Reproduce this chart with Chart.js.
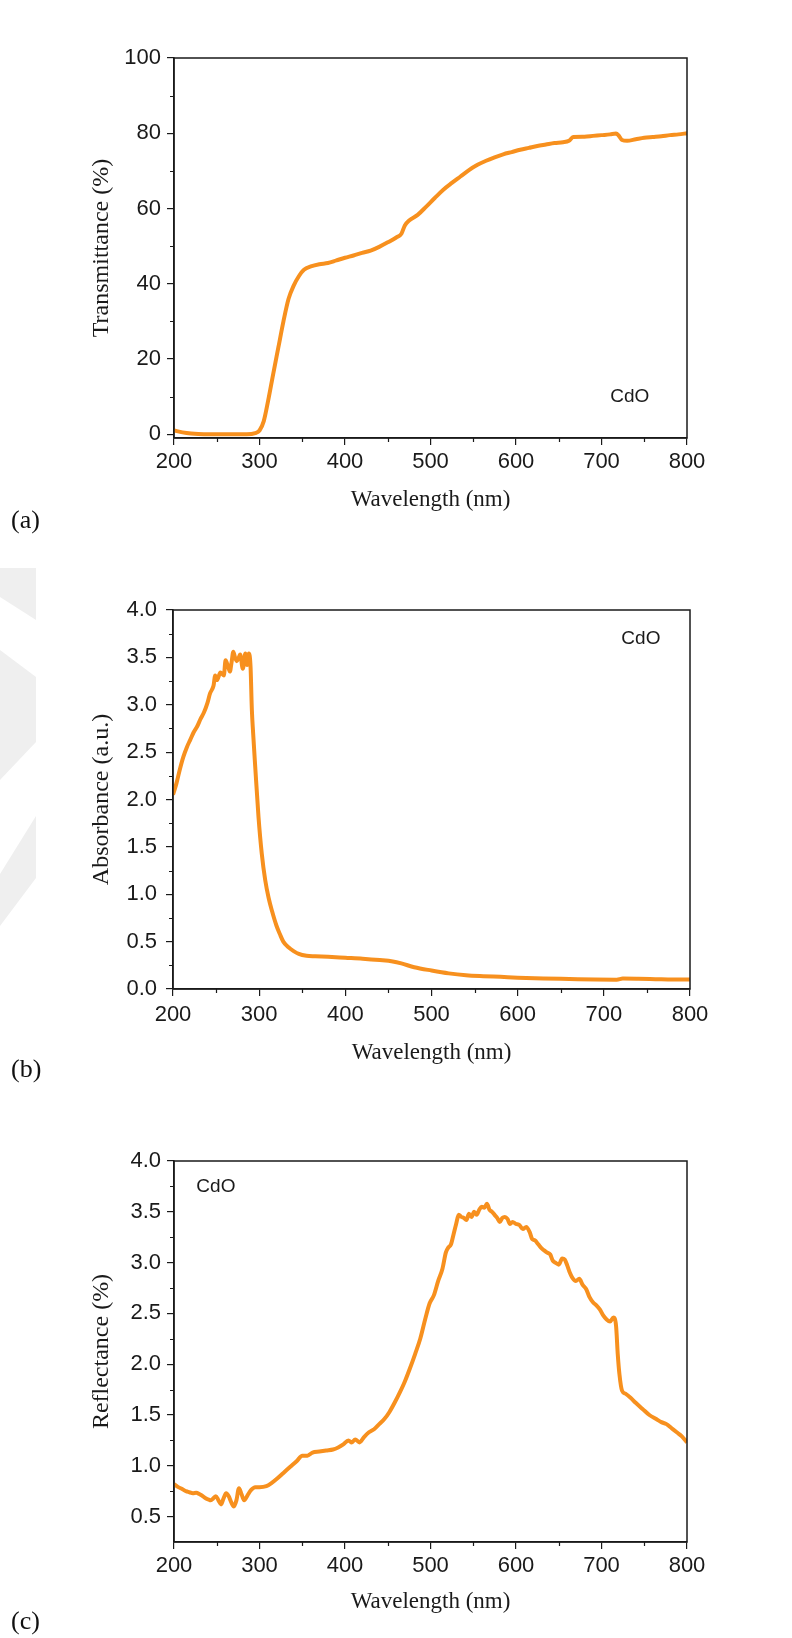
<!DOCTYPE html>
<html lang="en">
<head>
<meta charset="utf-8">
<title>CdO optical spectra</title>
<script src="https://cdn.jsdelivr.net/npm/chart.js"></script>
<style>
    body { margin: 0; background: #fff; }
    #page { position: relative; width: 792px; height: 1638px; background: #fff; overflow: hidden; }
    canvas { position: absolute; left: 0; }
    .panel {
        position: absolute; left: 11px;
        font-family: 'Liberation Serif', 'Times New Roman', serif;
        font-size: 26px; line-height: 26px; color: #111;
    }
    .mark { position: absolute; left: 0; width: 36px; background: #efefef; }
</style>
</head>
<body>
<div id="page">
    <!-- faint watermark at the left edge -->
    <div class="mark" style="top:568px;height:52px;clip-path:polygon(0 0,36px 0,36px 52px,0 29px)"></div>
    <div class="mark" style="top:650px;height:130px;clip-path:polygon(0 0,36px 27px,36px 92px,0 130px)"></div>
    <div class="mark" style="top:816px;height:110px;clip-path:polygon(36px 0,36px 62px,0 110px,0 58px)"></div>

    <canvas id="chartA" width="792" height="540" style="top:0"></canvas>
    <canvas id="chartB" width="792" height="540" style="top:540px"></canvas>
    <canvas id="chartC" width="792" height="558" style="top:1080px"></canvas>

    <div class="panel" style="top:507px">(a)</div>
    <div class="panel" style="top:1056px">(b)</div>
    <div class="panel" style="top:1608px">(c)</div>
</div>

<script>
// ---- data ----
const xTicks = [200, 300, 400, 500, 600, 700, 800];
const xMinor = [250, 350, 450, 550, 650, 750];

// (a) transmittance
const wlA = [200, 210, 220, 235, 260, 285, 295, 300, 305, 310, 316, 322, 328, 334, 340, 346, 352, 360, 370, 380,
    390, 400, 410, 420, 430, 440, 450, 460, 466, 470, 475, 485, 495, 505, 515, 525, 535, 545, 555, 565,
    575, 585, 595, 605, 615, 625, 635, 645, 655, 662, 667, 680, 690, 700, 710, 717, 720, 724, 730, 740,
    750, 760, 770, 780, 790, 800];
const transA = [1.0, 0.5, 0.2, 0.0, 0.0, 0.0, 0.3, 1.0, 3.5, 8.8, 16, 23, 30, 36, 39.5, 42, 43.7, 44.6, 45.2, 45.5,
    46.2, 46.9, 47.5, 48.2, 48.8, 49.8, 51.0, 52.3, 53.3, 55.5, 56.8, 58.3, 60.5, 62.8, 65.0, 66.8, 68.5, 70.2, 71.6, 72.7,
    73.6, 74.4, 75.0, 75.6, 76.1, 76.6, 77.0, 77.4, 77.6, 78.0, 79.0, 79.1, 79.3, 79.5, 79.7, 79.9, 79.4, 78.2, 78.0, 78.4,
    78.8, 79.0, 79.2, 79.5, 79.7, 80.0];
const yTicksA = [0, 20, 40, 60, 80, 100];
const yMinorA = [10, 30, 50, 70, 90];

// (b) absorbance
const wlB = [200, 204, 208, 212, 216, 220, 224, 228, 232, 236, 240, 243, 247, 249, 251, 255, 259, 261, 264, 266,
    268, 270, 272, 274, 276, 278, 281, 284, 286, 288, 290, 291.5, 293, 295.4, 299.2, 303, 307, 311, 315, 320,
    324, 328, 334, 340, 346, 355, 365, 380, 400, 420, 440, 455, 465, 480, 500, 520, 540, 560, 580, 600,
    630, 660, 690, 715, 722, 740, 760, 780, 800];
const absB = [2.05, 2.17, 2.32, 2.45, 2.55, 2.63, 2.71, 2.77, 2.85, 2.92, 3.02, 3.12, 3.20, 3.31, 3.26, 3.34, 3.31, 3.47, 3.40, 3.35,
    3.45, 3.56, 3.50, 3.46, 3.49, 3.53, 3.38, 3.54, 3.42, 3.54, 3.40, 2.95, 2.70, 2.35, 1.82, 1.43, 1.15, 0.96, 0.82, 0.67,
    0.58, 0.50, 0.44, 0.40, 0.37, 0.35, 0.345, 0.34, 0.33, 0.32, 0.305, 0.29, 0.27, 0.23, 0.195, 0.165, 0.145, 0.135, 0.128, 0.12,
    0.112, 0.106, 0.10, 0.098, 0.11, 0.108, 0.104, 0.10, 0.10];
const yTicksB = [0, 0.5, 1.0, 1.5, 2.0, 2.5, 3.0, 3.5, 4.0];
const yMinorB = [0.25, 0.75, 1.25, 1.75, 2.25, 2.75, 3.25, 3.75];

// (c) reflectance
const wlC = [200, 205, 210, 214, 218, 222, 226, 230, 234, 237, 240, 243, 246, 249, 252, 255, 258, 261, 264, 267,
    270, 273, 276, 279, 282, 286, 290, 295, 300, 308, 314, 320, 328, 336, 344, 350, 356, 362, 370, 378,
    386, 392, 398, 404, 408, 412, 417, 422, 428, 434, 440, 446, 452, 458, 464, 470, 476, 482, 488, 494,
    499, 504, 509, 514, 518, 521, 524, 527, 530, 533, 536, 539, 542, 545, 548, 551, 554, 557, 560, 563,
    566, 569, 572, 575, 578, 581, 584, 587, 590, 593, 596, 600, 604, 608, 612, 616, 619, 622, 626, 630,
    633, 636, 640, 643, 646, 650, 654, 657, 660, 663, 666, 670, 674, 678, 682, 686, 690, 694, 698, 702,
    706, 710, 714, 717, 719, 721, 724, 728, 734, 740, 748, 756, 764, 770, 776, 782, 788, 794, 800];
const reflC = [0.82, 0.79, 0.77, 0.75, 0.74, 0.73, 0.735, 0.72, 0.70, 0.68, 0.67, 0.66, 0.68, 0.70, 0.66, 0.62, 0.68, 0.73, 0.70, 0.64,
    0.60, 0.66, 0.78, 0.72, 0.66, 0.71, 0.76, 0.79, 0.79, 0.80, 0.83, 0.87, 0.93, 0.99, 1.05, 1.10, 1.10, 1.13, 1.14, 1.15,
    1.16, 1.18, 1.21, 1.25, 1.23, 1.26, 1.23, 1.28, 1.33, 1.36, 1.41, 1.46, 1.53, 1.62, 1.72, 1.83, 1.96, 2.10, 2.25, 2.45,
    2.60, 2.68, 2.82, 2.94, 3.10, 3.15, 3.18, 3.28, 3.38, 3.47, 3.45, 3.44, 3.42, 3.48, 3.45, 3.50, 3.47, 3.52, 3.55, 3.54,
    3.58, 3.52, 3.50, 3.47, 3.44, 3.40, 3.44, 3.45, 3.43, 3.38, 3.40, 3.38, 3.37, 3.33, 3.35, 3.30, 3.23, 3.22, 3.18, 3.14,
    3.12, 3.10, 3.08, 3.02, 3.00, 2.98, 3.04, 3.03, 2.97, 2.90, 2.85, 2.82, 2.84, 2.78, 2.74, 2.66, 2.61, 2.58, 2.54, 2.48,
    2.44, 2.42, 2.46, 2.38, 2.10, 1.90, 1.74, 1.71, 1.67, 1.62, 1.56, 1.50, 1.46, 1.43, 1.41, 1.37, 1.33, 1.29, 1.23];
const yTicksC = [0.5, 1.0, 1.5, 2.0, 2.5, 3.0, 3.5, 4.0];
const yMinorC = [0.75, 1.25, 1.75, 2.25, 2.75, 3.25, 3.75];

// ---- styling ----
const LINE = '#f7901e';
const INK = '#1a1a1a';
const SANS = "'Liberation Sans', Arial, sans-serif";
const SERIF = "'Liberation Serif', 'Times New Roman', serif";

// box frame, minor ticks and the "CdO" note
const framePlugin = {
    id: 'frame',
    afterDraw(chart, args, opts) {
        const { ctx, chartArea: a, scales: { x, y } } = chart;
        ctx.save();
        ctx.strokeStyle = INK;
        ctx.lineWidth = 1.2;
        ctx.beginPath();
        opts.xMinor.forEach(v => {
            const px = Math.round(x.getPixelForValue(v)) + 0.5;
            ctx.moveTo(px, a.bottom);
            ctx.lineTo(px, a.bottom + 4);
        });
        opts.yMinor.forEach(v => {
            const py = Math.round(y.getPixelForValue(v)) + 0.5;
            ctx.moveTo(a.left - 4, py);
            ctx.lineTo(a.left, py);
        });
        ctx.stroke();
        ctx.lineWidth = 1.5;
        ctx.strokeRect(a.left, a.top, a.right - a.left, a.bottom - a.top);

        ctx.fillStyle = INK;
        ctx.font = '19px ' + SANS;
        ctx.textAlign = 'center';
        ctx.textBaseline = 'middle';
        ctx.fillText(opts.note.text, x.getPixelForValue(opts.note.x), y.getPixelForValue(opts.note.y));
        ctx.restore();
    }
};

function makeChart(id, c) {
    return new Chart(document.getElementById(id), {
        type: 'line',
        data: {
            datasets: [{
                data: c.wl.map((w, i) => ({ x: w, y: c.vals[i] })),
                borderColor: LINE,
                borderWidth: 4,
                pointRadius: 0,
                cubicInterpolationMode: 'monotone',
                fill: false
            }]
        },
        options: {
            responsive: false,
            animation: false,
            events: [],
            layout: { padding: { top: c.top, right: 792 - c.right, left: 0, bottom: 0 } },
            plugins: {
                legend: { display: false },
                tooltip: { enabled: false },
                frame: { xMinor: xMinor, yMinor: c.yMinor, note: c.note }
            },
            scales: {
                x: {
                    type: 'linear',
                    min: 200,
                    max: 800,
                    afterBuildTicks: s => { s.ticks = xTicks.map(v => ({ value: v })); },
                    afterFit: s => { s.height = c.h - c.bottom; },
                    grid: { drawOnChartArea: false, drawTicks: true, tickLength: 7, color: INK, lineWidth: 1.2 },
                    border: { display: true, color: INK, width: 1.5 },
                    ticks: {
                        autoSkip: false, maxRotation: 0, padding: c.xPad,
                        color: INK, font: { family: SANS, size: 22 }
                    },
                    title: {
                        display: true, text: 'Wavelength (nm)', color: INK,
                        font: { family: SERIF, size: 23 },
                        padding: { top: 0, bottom: c.xTitlePad }
                    }
                },
                y: {
                    type: 'linear',
                    min: c.ymin,
                    max: c.ymax,
                    afterBuildTicks: s => { s.ticks = c.yTicks.map(v => ({ value: v })); },
                    afterFit: s => { s.width = c.left; },
                    grid: { drawOnChartArea: false, drawTicks: true, tickLength: 7, color: INK, lineWidth: 1.2 },
                    border: { display: true, color: INK, width: 1.5 },
                    ticks: {
                        padding: c.yPad, color: INK,
                        font: { family: SANS, size: 22 },
                        callback: v => v.toFixed(c.digits)
                    },
                    title: {
                        display: true, text: c.ytitle, color: INK,
                        font: { family: SERIF, size: 24 },
                        padding: { top: 87, bottom: 0 }
                    }
                }
            }
        },
        plugins: [framePlugin]
    });
}

makeChart('chartA', {
    wl: wlA, vals: transA, yTicks: yTicksA, yMinor: yMinorA, digits: 0,
    ymin: -1, ymax: 100, ytitle: 'Transmittance (%)',
    h: 540, top: 58, bottom: 438, left: 174, right: 687,
    xPad: 4, yPad: 6, xTitlePad: 26.5,
    note: { text: 'CdO', x: 733, y: 10 }
});

makeChart('chartB', {
    wl: wlB, vals: absB, yTicks: yTicksB, yMinor: yMinorB, digits: 1,
    ymin: 0, ymax: 4, ytitle: 'Absorbance (a.u.)',
    h: 540, top: 70, bottom: 449, left: 173, right: 690,
    xPad: 5.5, yPad: 9, xTitlePad: 13.5,
    note: { text: 'CdO', x: 743, y: 3.7 }
});

makeChart('chartC', {
    wl: wlC, vals: reflC, yTicks: yTicksC, yMinor: yMinorC, digits: 1,
    ymin: 0.25, ymax: 4, ytitle: 'Reflectance (%)',
    h: 558, top: 81, bottom: 462, left: 174, right: 687,
    xPad: 3.5, yPad: 6, xTitlePad: 22,
    note: { text: 'CdO', x: 249, y: 3.745 }
});
</script>
</body>
</html>
